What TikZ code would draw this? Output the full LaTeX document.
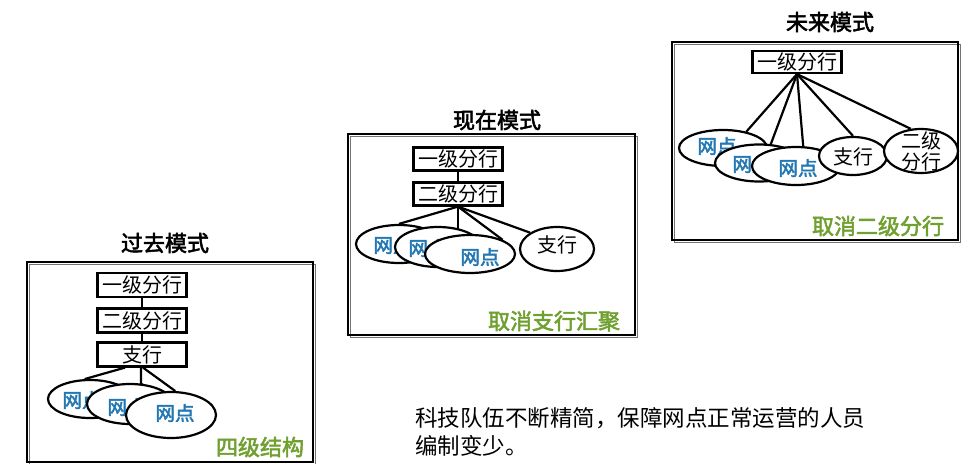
\documentclass[tikz,border=0pt]{standalone}
\usepackage{fontspec}
\newfontfamily\cjk{Noto Sans CJK SC}[AutoFakeBold=2.5]
\usetikzlibrary{shapes.geometric,calc}
\definecolor{ngreen}{RGB}{112,160,48}
\definecolor{nblue}{RGB}{35,120,180}
\pgfdeclarelayer{bg}
\pgfdeclarelayer{paper}
\pgfsetlayers{paper,bg,main}
\tikzset{
  frame/.style={draw, line width=1.1pt},
  frameshadow/.style={draw=black!55, line width=1pt},
  box/.style={draw, line width=2.2pt, minimum width=89pt, minimum height=24pt, inner sep=0pt, fill=white,
    font=\cjk\fontsize{20}{20}\selectfont},
  oval/.style={ellipse, draw, line width=2.2pt, fill=white, inner sep=0pt},
  ovaltxt/.style={font=\cjk\bfseries\fontsize{19.5}{19.5}\selectfont, text=nblue, inner sep=0pt},
  blacktxt/.style={font=\cjk\fontsize{20}{21}\selectfont, align=center, inner sep=0pt},
  conn/.style={line width=2.2pt},
  ptitle/.style={font=\cjk\bfseries\fontsize{22}{22}\selectfont},
  gnote/.style={font=\cjk\bfseries\fontsize{22}{22}\selectfont, text=ngreen},
  body/.style={font=\cjk\fontsize{22.5}{28}\selectfont, align=left, anchor=west, inner sep=0pt}
}
\begin{document}
\begin{tikzpicture}[x=1pt,y=-1pt]
\useasboundingbox (0,0) rectangle (963,463);
\begin{pgfonlayer}{paper}
\fill[white] (0,0) rectangle (963,463);
\end{pgfonlayer}

% ---------- Panel 1: past ----------
\node[ptitle] (t1) at (165,243) {过去模式};
\draw[frameshadow] (29,264) rectangle (315,464);
\draw[frame] (27,262) rectangle (313,462);
\node[box] (pa) at (142,285) {一级分行};
\node[box] (pb) at (142,320.5) {二级分行};
\node[box] (pc) at (142,354.5) {支行};
\draw[conn] (pa) -- (pb);
\draw[conn] (pb) -- (pc);
\node[oval, minimum width=84pt, minimum height=38pt] (pe1) at (90,399) {};
\node[ovaltxt] (pt1) at (82,400) {网点};
\node[oval, minimum width=86pt, minimum height=40pt] (pe2) at (130,404) {};
\node[ovaltxt] (pt2) at (127,407) {网点};
\node[oval, minimum width=90pt, minimum height=46pt] (pe3) at (171,415) {};
\node[ovaltxt] (pt3) at (175,413) {网点};
\begin{pgfonlayer}{bg}
\draw[conn] ($(pc.south)+(-17,0)$) -- (pe1.105);
\draw[conn] ($(pc.south)+(-1,0)$) -- ($(pc.south)+(-1,20)$) -- (pe2);
\draw[conn] ($(pc.south)+(1,0)$) -- (pe3.80);
\end{pgfonlayer}
\node[gnote] (g1) at (260,447) {四级结构};

% ---------- Panel 2: present ----------
\node[ptitle] (t2) at (497,120) {现在模式};
\draw[frameshadow] (350,136) rectangle (637,337);
\draw[frame] (348,134) rectangle (635,335);
\node[box, minimum height=23pt] (qa) at (458,159) {一级分行};
\node[box, minimum height=23pt] (qb) at (458,194) {二级分行};
\draw[conn] (qa) -- (qb);
\node[oval, minimum width=86pt, minimum height=38pt] (qe1) at (399,244) {};
\node[ovaltxt] (qt1) at (393,245) {网点};
\node[oval, minimum width=86pt, minimum height=40pt] (qe2) at (438,247) {};
\node[ovaltxt] (qt2) at (428,248) {网点};
\node[oval, minimum width=90pt, minimum height=38pt] (qe3) at (470,254) {};
\node[ovaltxt] (qt3) at (480,257) {网点};
\node[oval, minimum width=74pt, minimum height=44pt] (qz) at (557,249) {};
\node[blacktxt] (qzt) at (557,245) {支行};
\begin{pgfonlayer}{bg}
\draw[conn] (qb.south) -- (qe1.north);
\draw[conn] (qb.south) -- (qb.south |- qe2.center);
\draw[conn] (qb.south) -- (qe3.north east);
\draw[conn] (qb.south) -- (qz.north west);
\end{pgfonlayer}
\node[gnote] (g2) at (554,321) {取消支行汇聚};

% ---------- Panel 3: future ----------
\node[ptitle] (t3) at (830,22) {未来模式};
\draw[frameshadow] (674,44) rectangle (960,242);
\draw[frame] (672,42) rectangle (958,240);
\node[box, minimum height=22pt] (ra) at (797,62) {一级分行};
\node[oval, minimum width=88pt, minimum height=36pt] (re1) at (723,148) {};
\node[ovaltxt] (rt1) at (717,146) {网点};
\node[oval, minimum width=88pt, minimum height=37pt] (re2) at (759,163) {};
\node[ovaltxt] (rt2) at (752,164) {网点};
\node[oval, minimum width=88pt, minimum height=38pt] (re3) at (796,166) {};
\node[ovaltxt] (rt3) at (798,168) {网点};
\node[oval, minimum width=68pt, minimum height=38pt] (rz) at (853,156) {};
\node[blacktxt] (rzt) at (853,157) {支行};
\node[oval, minimum width=74pt, minimum height=44pt] (rf) at (921,151) {};
\node[blacktxt] (rft) at (921,151) {二级\\分行};
\begin{pgfonlayer}{bg}
\draw[conn] (ra.south) -- (re1.35);
\draw[conn] (ra.south) -- (re2.58);
\draw[conn] (ra.south) -- (re3.70);
\draw[conn] (ra.south) -- (rz.north);
\draw[conn] (ra.south) -- (rf.115);
\end{pgfonlayer}
\node[gnote] (g3) at (878,226) {取消二级分行};

% ---------- Bottom text ----------
\node[body] (txt) at (415,432) {科技队伍不断精简，保障网点正常运营的人员\\编制变少。};
\end{tikzpicture}
\end{document}
